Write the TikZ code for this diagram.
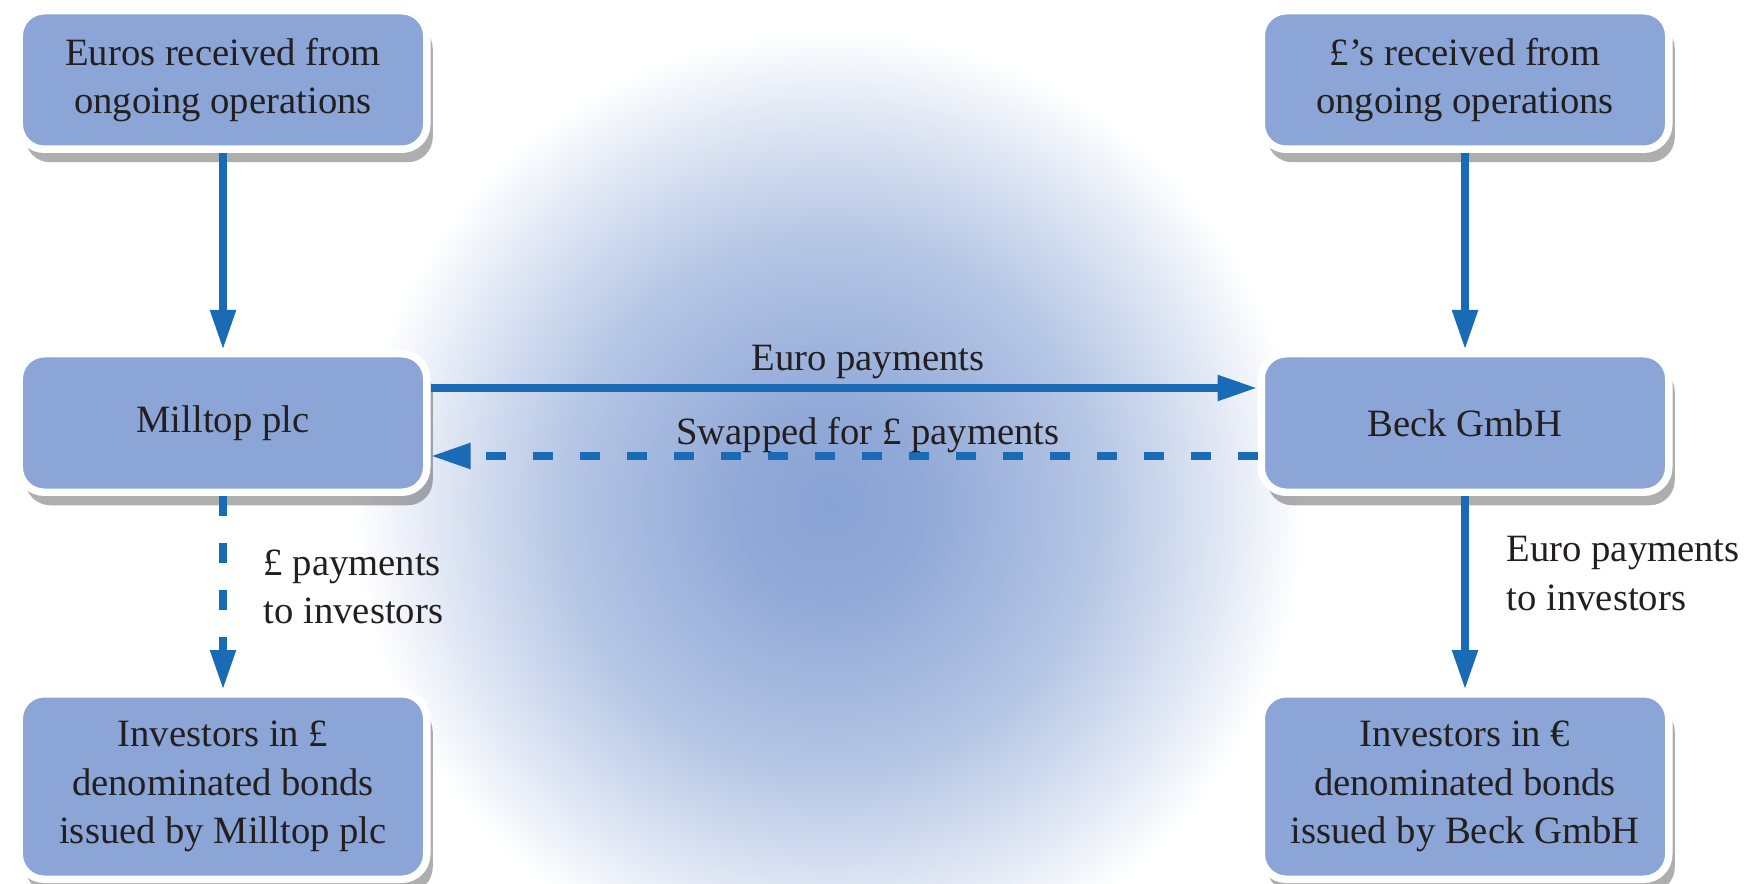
\documentclass[tikz,border=0pt]{standalone}
\usepackage{fontspec}
\setmainfont{Liberation Serif}
\usetikzlibrary{arrows.meta,shadows}
\definecolor{boxblue}{HTML}{8AA5D6}
\definecolor{flowblue}{HTML}{1A6BB5}
\definecolor{glowblue}{HTML}{88A2D4}
\definecolor{inkgray}{HTML}{231F20}
\pgfdeclareradialshading{glow}{\pgfpoint{0bp}{0bp}}{color(0bp)=(glowblue);
  color(5bp)=(glowblue!92!white); color(14bp)=(glowblue!62!white);
  color(22bp)=(glowblue!18!white); color(25bp)=(white); color(50bp)=(white)}

\begin{document}
\begin{tikzpicture}[
    font=\fontsize{11}{13.7}\selectfont,
    box/.style={draw=white, line width=0.075cm, fill=boxblue, rounded corners=0.25cm,
      minimum width=4.075cm, minimum height=1.385cm, align=center, text=inkgray,
      drop shadow={fill=black!70, opacity=0.45, shadow xshift=0.06cm, shadow yshift=-0.13cm}},
    tallbox/.style={box, minimum height=1.855cm},
    flow/.style={flowblue, line width=0.08cm, -{Triangle[length=0.4cm,width=0.24cm]}},
    swap/.style={flow, dash pattern=on 0.2cm off 0.27cm},
    lbl/.style={text=inkgray, align=left}]
    \useasboundingbox (0,0) rectangle (17.5,8.83);

    % glow behind the swap
    \shade[shading=glow] (8.30,3.78) circle (4.75);

    \node[box] (eurosrc) at (2.23,8.03) {Euros received from\\ongoing operations};
    \node[box] (milltop) at (2.23,4.60) {Milltop plc};
    \node[tallbox] (invgbp) at (2.23,0.965) {Investors in £\\denominated bonds\\issued by Milltop plc};

    \node[box] (gbpsrc) at (14.65,8.03) {£’s received from\\ongoing operations};
    \node[box] (beck) at (14.65,4.60) {Beck GmbH};
    \node[tallbox] (inveur) at (14.65,0.965) {Investors in €\\denominated bonds\\issued by Beck GmbH};

    \draw[flow] (eurosrc) -- (milltop);
    \draw[flow] (gbpsrc) -- (beck);

    \draw[flow] ([yshift=0.35cm]milltop.east) -- ([yshift=0.35cm]beck.west)
      node[midway, above, xshift=0.24cm, yshift=-0.07cm, text=inkgray] (eurolbl) {Euro payments};
    \draw[swap] ([yshift=-0.33cm]beck.west) -- ([yshift=-0.33cm]milltop.east)
      node[midway, above, xshift=0.24cm, yshift=-0.13cm, text=inkgray] (swaplbl) {Swapped for £ payments};

    \draw[swap] (milltop) -- (invgbp)
      node[midway, right=0.25cm, yshift=0.065cm, lbl] (gbplbl) {£ payments\\to investors};
    \draw[flow] (beck) -- (inveur)
      node[midway, right=0.26cm, yshift=0.195cm, lbl] (eurlbl) {Euro payments\\to investors};
  \end{tikzpicture}
\end{document}
